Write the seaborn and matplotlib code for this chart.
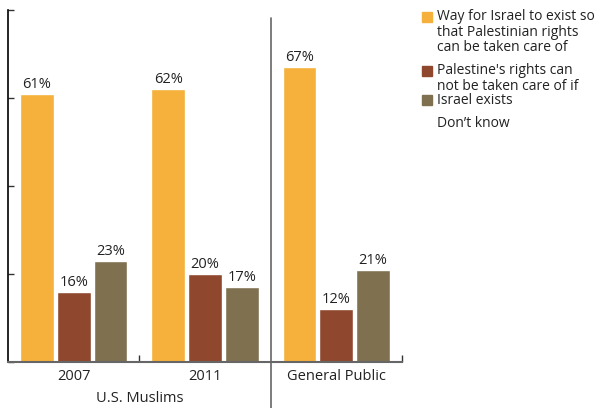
"""Muslim and general public views on Israel / Palestinian rights"""

import pandas as pd
import matplotlib
matplotlib.use('Agg')
import matplotlib.pyplot as plt
from matplotlib.patches import Rectangle
import seaborn as sns

groups = ['2007', '2011', 'General Public']
series = ['Way for Israel to exist', 'Rights can not be taken care of', "Don't know"]
way_to_exist = [61, 62, 67]
cannot = [16, 20, 12]
dont_know = [23, 17, 21]
colors = ['#F5B13B', '#8F472D', '#7F7150']

legend_labels = [
    'Way for Israel to exist so\nthat Palestinian rights\ncan be taken care of',
    "Palestine's rights can\nnot be taken care of if",
    'Israel exists',
    'Don\u2019t know',
]

df = pd.DataFrame({
    'group': groups * 3,
    'series': [s for s in series for _ in groups],
    'value': way_to_exist + cannot + dont_know,
})

sns.set_style('white')
plt.rcParams['font.family'] = ['Open Sans', 'DejaVu Sans']

fig = plt.figure(figsize=(5.99, 4.08), dpi=100)
ax = fig.add_axes([8 / 599, 46 / 408, 394 / 599, 352 / 408])

sns.barplot(data=df, x='group', y='value', hue='series', palette=colors,
            width=0.84, gap=0.08, legend=False, ax=ax, saturation=1)

for cont in ax.containers:
    ax.bar_label(cont, fmt='%d%%', padding=1.5, fontsize=10.5, color='#222222')

ax.set_xlim(-0.5, 2.5)
ax.set_ylim(0, 80)
ax.set_yticks([0, 20, 40, 60, 80])
ax.set_yticklabels([])
ax.tick_params(axis='y', direction='in', length=4, width=1, color='#333333', left=True)
ax.set_xticks([0.5, 2.5], minor=True)
ax.tick_params(axis='x', which='minor', direction='in', length=5, width=1,
               color='#333333', bottom=True)
ax.tick_params(axis='x', which='major', length=0, labelsize=10.5, pad=5,
               labelcolor='#222222')
ax.set_xlabel('')
ax.set_ylabel('')

for side in ['top', 'right']:
    ax.spines[side].set_visible(False)
ax.spines['left'].set_color('black')
ax.spines['left'].set_linewidth(1.2)
ax.spines['bottom'].set_color('#666666')
ax.spines['bottom'].set_linewidth(1.5)

# separator between Muslims and general public
ax.plot([1.5, 1.5], [0.977, -0.131], transform=ax.get_xaxis_transform(),
        color='#666666', lw=1.2, clip_on=False)
fig.text(140 / 599, 1 - 398 / 408, 'U.S. Muslims', ha='center', va='center',
         fontsize=10.5, color='#222222')

# legend drawn by hand to match original layout
box_x = 422 / 599
text_x = 437 / 599
entries = [(12, 0, 9), (66, 1, 63), (95, 2, 93), (None, None, 116)]
for (box_top, ci, text_top), label in zip(entries, legend_labels):
    if box_top is not None:
        fig.add_artist(Rectangle((box_x, 1 - (box_top + 10) / 408), 10 / 599, 10 / 408,
                                 transform=fig.transFigure, color=colors[ci]))
    fig.text(text_x, 1 - text_top / 408, label, ha='left', va='top',
             fontsize=10, color='#222222', linespacing=1.05)

fig.savefig('out.png', dpi=100)
